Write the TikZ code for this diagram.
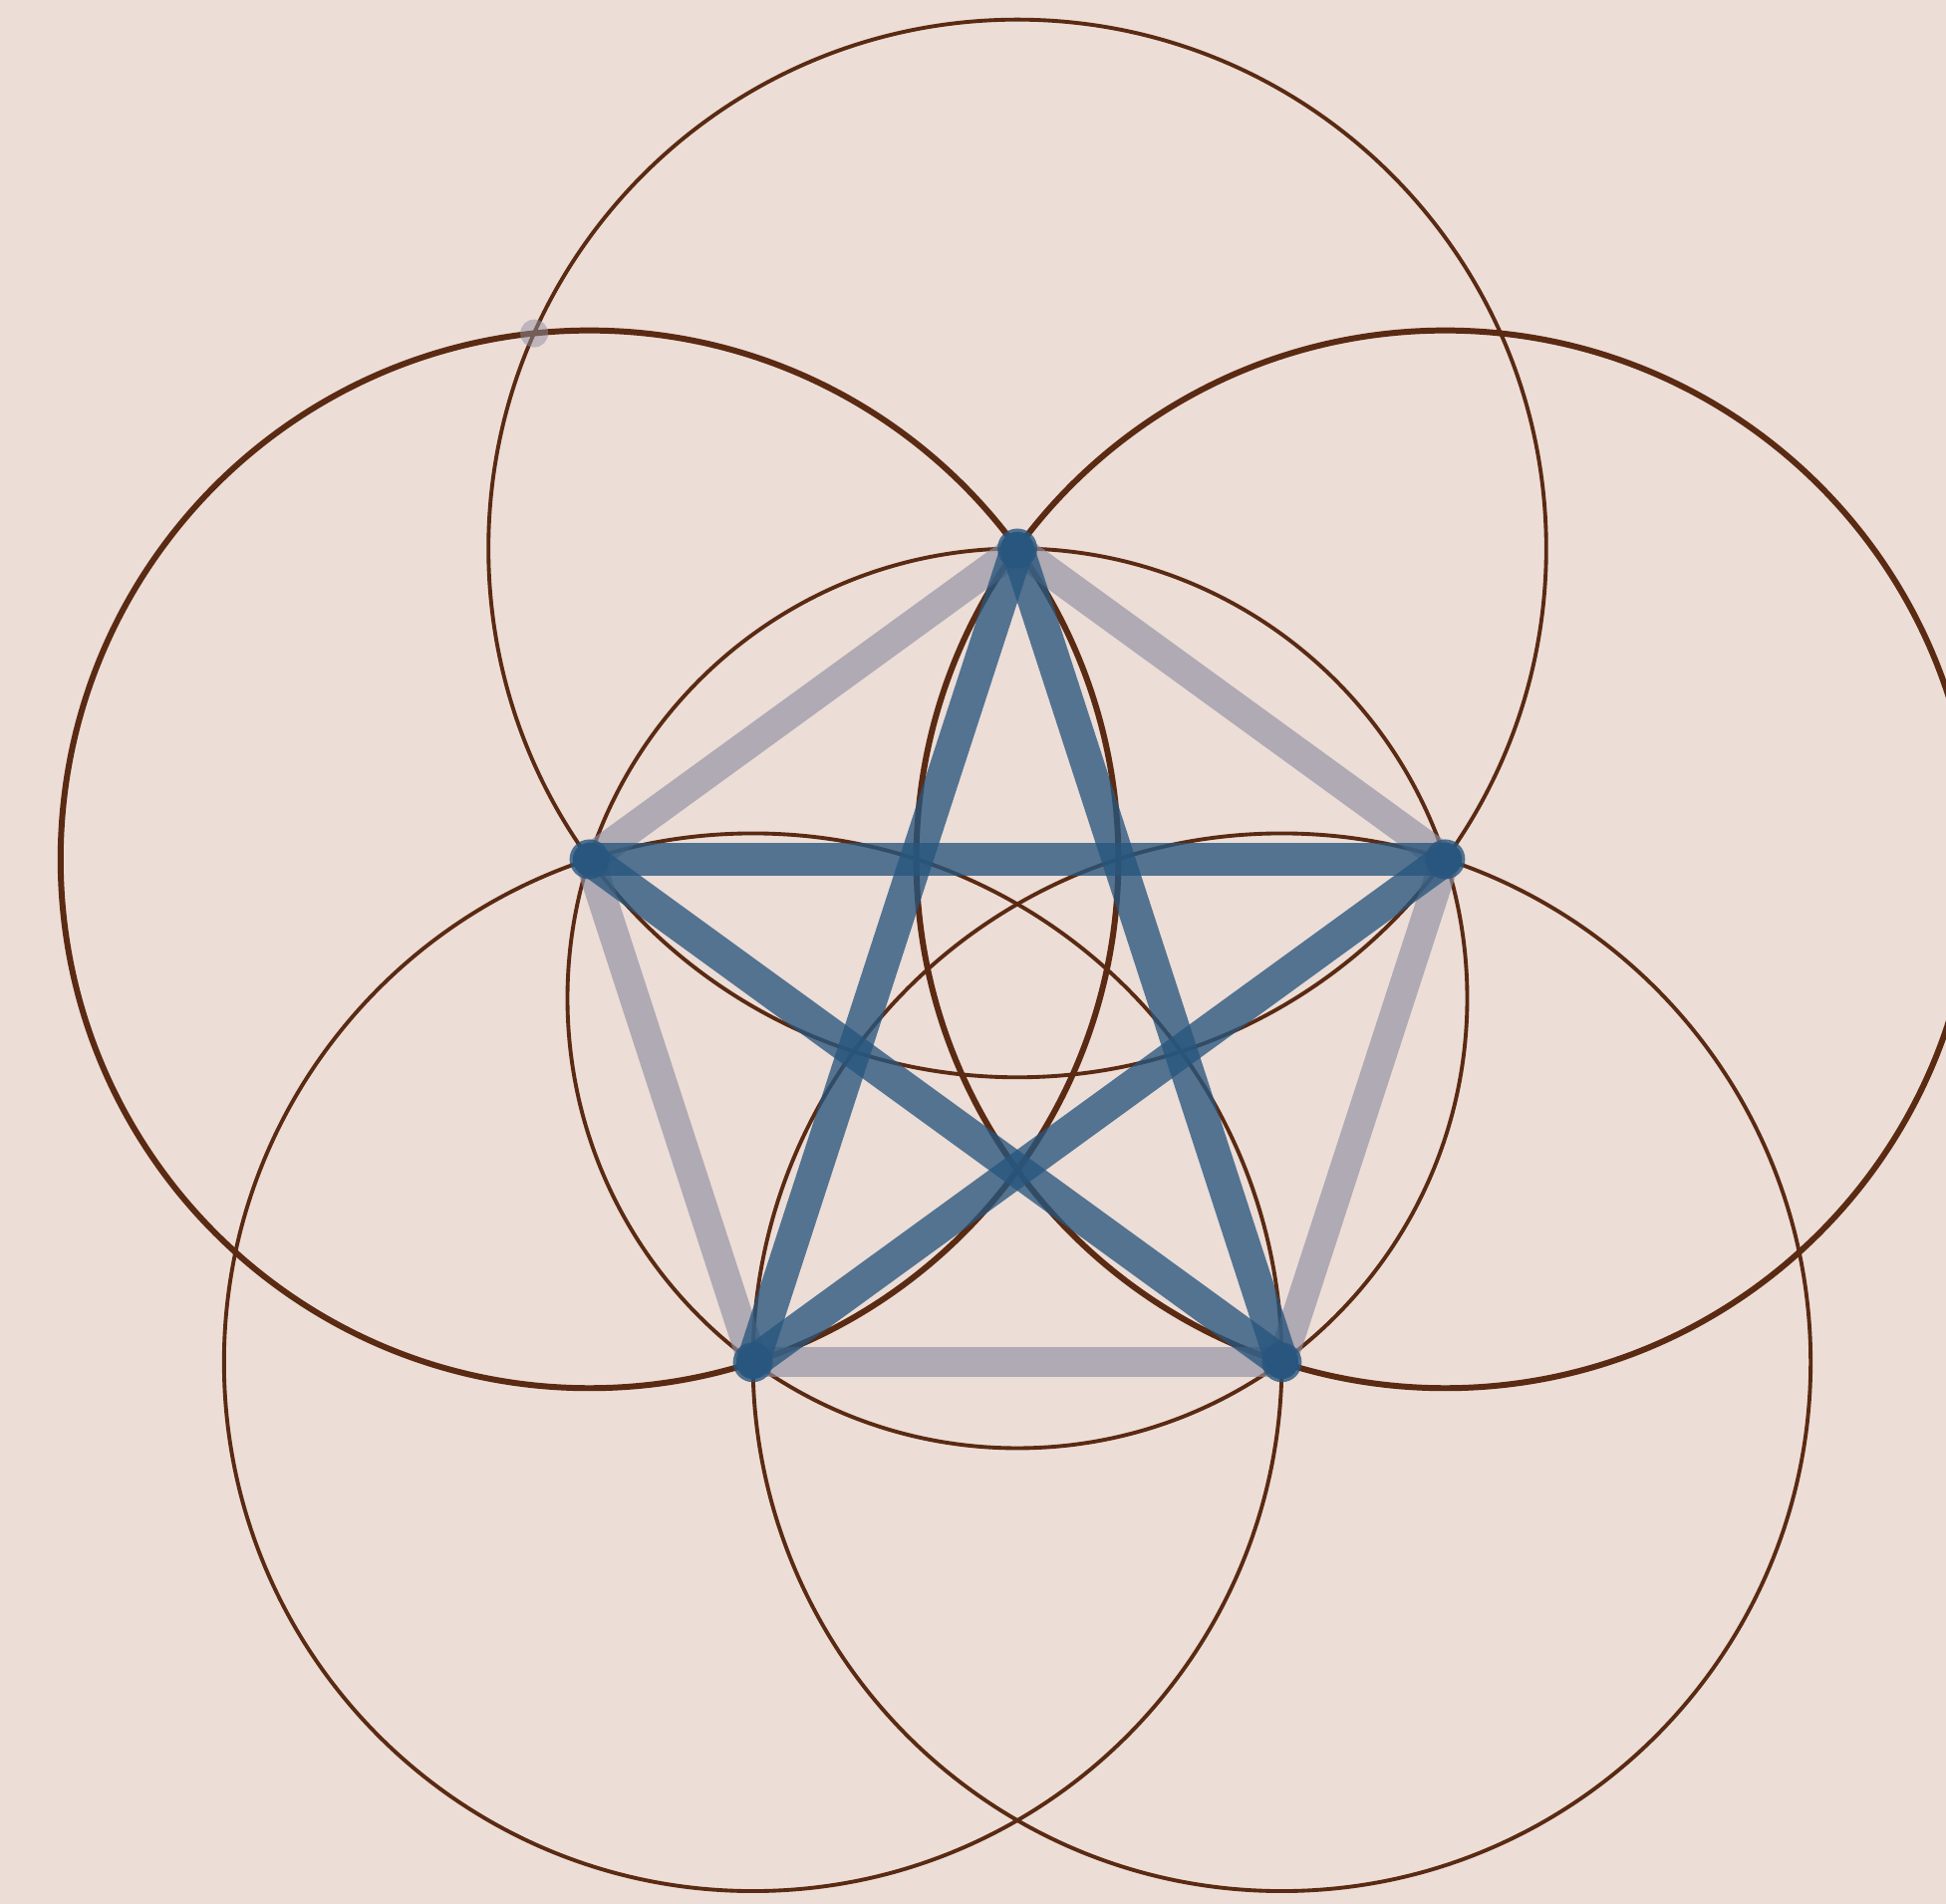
\documentclass[tikz,border=0pt]{standalone}
\usetikzlibrary{calc}

\definecolor{bgpink}{RGB}{236,221,215}
\definecolor{arcbrown}{RGB}{90,42,18}
\definecolor{starblue}{RGB}{40,86,126}
\definecolor{pentgray}{RGB}{143,143,161}

\begin{document}
\begin{tikzpicture}[
thinarc/.style={draw=arcbrown, line width=1.1pt},
thickarc/.style={draw=arcbrown, line width=1.7pt},
pentedge/.style={draw=pentgray, draw opacity=0.65, line width=8.5pt, line cap=round},
staredge/.style={draw=starblue, draw opacity=0.78, line width=9.5pt, line cap=round},
tipdot/.style={fill=starblue, fill opacity=0.8},
markdot/.style={fill=pentgray, fill opacity=0.5}
]

% ---------- CANVAS ----------

\fill[bgpink] (0,0) rectangle (19.53,19.11);
\useasboundingbox (0,0) rectangle (19.53,19.11);
\clip (0,0) rectangle (19.53,19.11);

\coordinate (O) at (10.21,9.09);
\def\rad{4.515}
\def\side{5.308}

\foreach \k in {0,...,4}
  \coordinate (v\k) at ($(O)+({90-72*\k}:\rad)$);

\coordinate (mark) at ($(O)+(126:8.249)$);

% ---------- CIRCLES ----------

\draw[thinarc] (O) circle (\rad);
\draw[thinarc] (v0) circle (\side);
\draw[thickarc] (v1) circle (\side);
\draw[thinarc] (v2) circle (\side);
\draw[thinarc] (v3) circle (\side);
\draw[thickarc] (v4) circle (\side);

% ---------- PENTAGON ----------

\draw[pentedge] (v0) -- (v1);
\draw[pentedge] (v1) -- (v2);
\draw[pentedge] (v2) -- (v3);
\draw[pentedge] (v3) -- (v4);
\draw[pentedge] (v4) -- (v0);

% ---------- STAR ----------

\draw[staredge] (v0) -- (v2);
\draw[staredge] (v2) -- (v4);
\draw[staredge] (v4) -- (v1);
\draw[staredge] (v1) -- (v3);
\draw[staredge] (v3) -- (v0);

\foreach \k in {0,...,4}
  \fill[tipdot] (v\k) circle (0.2);

\fill[markdot] (mark) circle (0.14);

\end{tikzpicture}
\end{document}
